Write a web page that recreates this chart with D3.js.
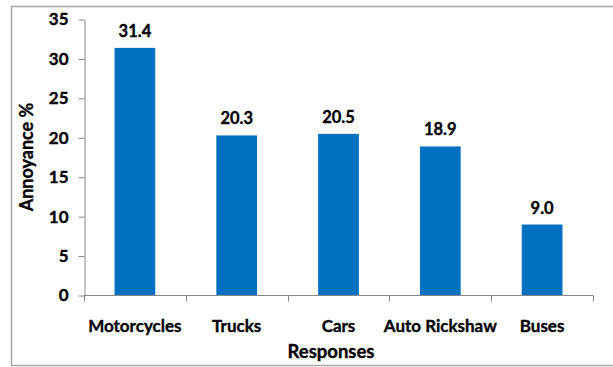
<!DOCTYPE html>
<html>
<head>
<meta charset="utf-8">
<script src="https://cdn.jsdelivr.net/npm/d3@7"></script>
<style>
  html, body { margin: 0; padding: 0; background: #fff; }
  svg { display: block; font-family: Lato, "Open Sans", sans-serif; font-weight: bold; }
  .lbl { stroke: #000; stroke-width: 0.35; fill: #000; }
</style>
</head>
<body>
<svg id="chart" width="613" height="367"></svg>
<script>
// Annoyance share by vehicle type
const categories = ["Motorcycles", "Trucks", "Cars", "Auto Rickshaw", "Buses"];
const annoyance = [31.4, 20.3, 20.5, 18.9, 9.0];
const yTicks = [0, 5, 10, 15, 20, 25, 30, 35];

const svg = d3.select("#chart");

// outer chart frame
svg.append("rect")
  .attr("x", 11.5).attr("y", 6.5)
  .attr("width", 620).attr("height", 359)
  .attr("fill", "none").attr("stroke", "#a6a6a6").attr("stroke-width", 1.5);

const x = d3.scaleBand()
  .domain(categories)
  .range([84, 593])
  .paddingInner(0.6).paddingOuter(0.3);

const y = d3.scaleLinear().domain([0, 35]).range([295.5, 19.5]);

// bars
svg.append("g").selectAll("rect")
  .data(categories)
  .join("rect")
  .attr("x", d => x(d))
  .attr("width", x.bandwidth())
  .attr("y", (d, i) => y(annoyance[i]))
  .attr("height", (d, i) => y(0) - y(annoyance[i]))
  .attr("fill", "#0070c0");

// value labels
svg.append("g").selectAll("text")
  .data(categories)
  .join("text")
  .attr("class", "lbl")
  .attr("x", d => x(d) + x.bandwidth() / 2)
  .attr("y", (d, i) => y(annoyance[i]) - 11)
  .attr("text-anchor", "middle")
  .attr("font-size", 16.5)
  .text((d, i) => annoyance[i].toFixed(1));

// y axis
const yAxis = svg.append("g")
  .attr("transform", "translate(84.5,0)")
  .call(d3.axisLeft(y).tickValues(yTicks).tickSize(6).tickPadding(10).tickSizeOuter(0));
yAxis.select(".domain").attr("stroke", "#868686");
yAxis.selectAll(".tick line").attr("stroke", "#868686");
yAxis.selectAll(".tick text")
  .attr("class", "lbl")
  .attr("font-size", 17).attr("font-family", "Lato, sans-serif").attr("font-weight", "bold");

// x axis with category boundary ticks
const xAxisG = svg.append("g").attr("transform", "translate(0,295.5)");
xAxisG.append("line")
  .attr("x1", 84).attr("x2", 593).attr("stroke", "#868686");
const bounds = d3.range(categories.length + 1).map(i => 84 + i * (509 / categories.length));
xAxisG.selectAll("line.tk")
  .data(bounds)
  .join("line")
  .attr("class", "tk")
  .attr("x1", d => Math.round(d) + 0.5).attr("x2", d => Math.round(d) + 0.5)
  .attr("y1", 0).attr("y2", 6)
  .attr("stroke", "#868686");
xAxisG.selectAll("text")
  .data(categories)
  .join("text")
  .attr("class", "lbl")
  .attr("x", d => x(d) + x.bandwidth() / 2)
  .attr("y", 36)
  .attr("text-anchor", "middle")
  .attr("font-size", 17)
  .text(d => d);

// axis titles
svg.append("text")
  .attr("class", "lbl")
  .attr("x", 331).attr("y", 358)
  .attr("text-anchor", "middle")
  .attr("font-size", 18.5)
  .text("Responses");

svg.append("text")
  .attr("class", "lbl")
  .attr("transform", "translate(33,157) rotate(-90)")
  .attr("text-anchor", "middle")
  .attr("font-size", 18)
  .text("Annoyance %");
</script>
</body>
</html>
